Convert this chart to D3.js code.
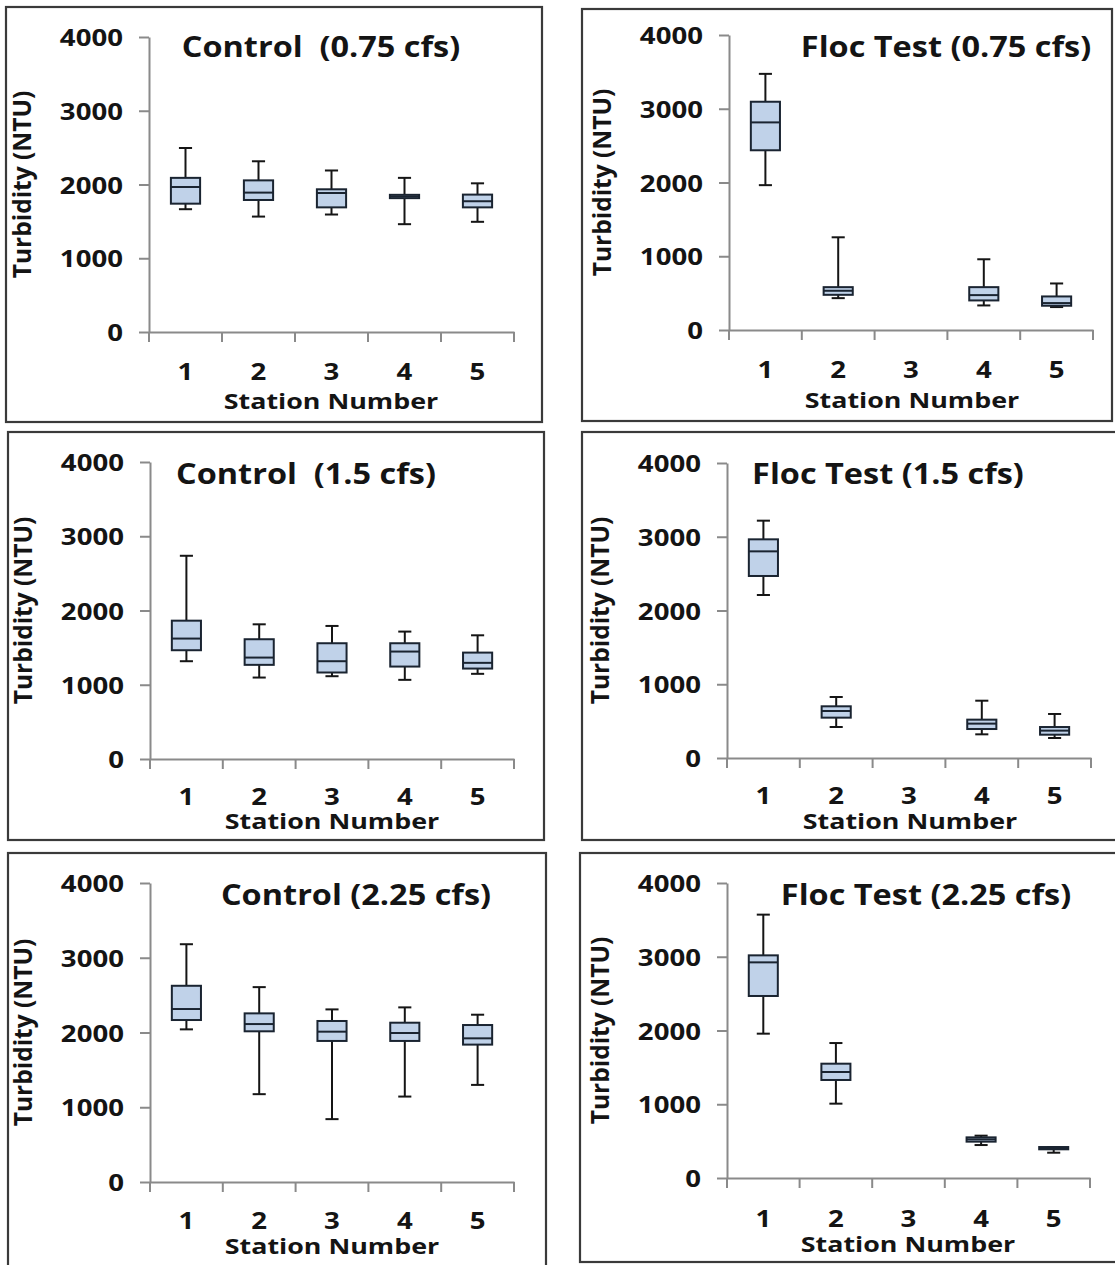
<!DOCTYPE html>
<html>
<head>
<meta charset="utf-8">
<script src="https://cdn.jsdelivr.net/npm/d3@7"></script>
<style>
  body { margin: 0; background: #fff; }
  svg { display: block; }
  text { font-family: "Open Sans", "DejaVu Sans", sans-serif; font-weight: 700; fill: #141414; }
</style>
</head>
<body>
<svg id="chart" width="1115" height="1265"></svg>
<script>
// Station categories and turbidity axis ticks
const stations = ["1", "2", "3", "4", "5"];
const yTickValues = [0, 1000, 2000, 3000, 4000];
const panelTitles = [
  "Control  (0.75 cfs)", "Floc Test (0.75 cfs)",
  "Control  (1.5 cfs)",  "Floc Test (1.5 cfs)",
  "Control (2.25 cfs)",  "Floc Test (2.25 cfs)"
];
const yAxisLabel = "Turbidity (NTU)";
const xAxisLabel = "Station Number";

// Box summaries per station: [lower whisker, Q1, median, Q3, upper whisker] in NTU
// (null = no measurements at that station)
const control075 = [[1665, 1740, 1966, 2090, 2495], [1565, 1790, 1890, 2056, 2315], [1593, 1690, 1885, 1935, 2190], [1462, 1815, 1838, 1860, 2090], [1494, 1690, 1773, 1863, 2016]];
const floc075    = [[1964, 2437, 2815, 3095, 3473], [432, 477, 532, 581, 1257], null, [333, 401, 473, 581, 959], [311, 329, 365, 455, 631]];
const control150 = [[1317, 1465, 1622, 1863, 2737], [1097, 1268, 1366, 1613, 1814], [1115, 1165, 1317, 1559, 1792], [1066, 1245, 1447, 1559, 1716], [1147, 1218, 1295, 1433, 1666]];
const floc150    = [[2210, 2468, 2802, 2965, 3218], [420, 547, 637, 701, 827], null, [321, 393, 466, 520, 777], [271, 316, 371, 420, 597]];
const control225 = [[2042, 2167, 2314, 2625, 3181], [1175, 2016, 2113, 2256, 2607], [841, 1887, 2011, 2154, 2309], [1143, 1887, 1993, 2131, 2336], [1299, 1838, 1922, 2100, 2238]];
const floc225    = [[1957, 2468, 2924, 3019, 3571], [1008, 1329, 1437, 1550, 1830], null, [447, 493, 524, 551, 574], [343, 389, 407, 420, 420]];

// Panel placement on the page (frame box and plot area)
const layout = [
  { data: control075, frame: [6, 7, 542, 422],       x0: 149, x1: 514,  yBase: 332,  yTop: 37,  titleX: 321, titleY: 57,  labelY: 380,  nameX: 331, nameY: 409 },
  { data: floc075,    frame: [582, 9, 1112, 421],    x0: 729, x1: 1093, yBase: 330,  yTop: 35,  titleX: 946, titleY: 57,  labelY: 378,  nameX: 912, nameY: 408 },
  { data: control150, frame: [8, 432, 544, 840],     x0: 150, x1: 514,  yBase: 759,  yTop: 462, titleX: 306, titleY: 484, labelY: 805,  nameX: 332, nameY: 829 },
  { data: floc150,    frame: [582, 432, 1118, 840],  x0: 727, x1: 1091, yBase: 758,  yTop: 463, titleX: 888, titleY: 484, labelY: 804,  nameX: 910, nameY: 829 },
  { data: control225, frame: [8, 853, 546, 1275],    x0: 150, x1: 514,  yBase: 1182, yTop: 883, titleX: 356, titleY: 905, labelY: 1229, nameX: 332, nameY: 1254 },
  { data: floc225,    frame: [580, 853, 1118, 1262], x0: 727, x1: 1090, yBase: 1178, yTop: 883, titleX: 926, titleY: 905, labelY: 1227, nameX: 908, nameY: 1252 }
];

const AXIS_GRAY = "#8a8a8a";
const BOX_FILL = "#c0d2e9";
const BOX_EDGE = "#1a2431";
const INK = "#151515";

const svg = d3.select("#chart");

// Horizontally widen a text element about its own anchor point
function widen(sel, sx) {
  sel.each(function () {
    const t = d3.select(this);
    const x = +t.attr("x") || 0, y = +t.attr("y") || 0;
    t.attr("transform", `translate(${x},${y}) scale(${sx},1) translate(${-x},${-y})`);
  });
}

layout.forEach((p, i) => {
  const g = svg.append("g");
  const [fx0, fy0, fx1, fy1] = p.frame;

  // outer frame
  g.append("rect")
    .attr("x", fx0).attr("y", fy0)
    .attr("width", fx1 - fx0).attr("height", fy1 - fy0)
    .attr("fill", "none").attr("stroke", "#3a3a3a").attr("stroke-width", 2.2);

  const x = d3.scaleBand().domain(stations).range([p.x0, p.x1]).padding(0);
  const y = d3.scaleLinear().domain([0, 4000]).range([p.yBase, p.yTop]);

  // y axis
  const yAxis = g.append("g")
    .attr("transform", `translate(${p.x0},0)`)
    .call(d3.axisLeft(y).tickValues(yTickValues).tickSize(10).tickSizeOuter(0).tickPadding(16).tickFormat(d3.format("d")));
  yAxis.select(".domain").attr("stroke", AXIS_GRAY).attr("stroke-width", 2);
  yAxis.selectAll(".tick line").attr("stroke", AXIS_GRAY).attr("stroke-width", 2);
  yAxis.selectAll(".tick text")
    .attr("fill", INK).style("font-size", "24px").attr("dy", "0.36em");
  widen(yAxis.selectAll(".tick text"), 1.15);

  // x axis: labels centred in each station band
  const xAxis = g.append("g")
    .attr("transform", `translate(0,${p.yBase})`)
    .call(d3.axisBottom(x).tickSize(0).tickSizeOuter(0).tickPadding(0));
  xAxis.select(".domain").attr("stroke", AXIS_GRAY).attr("stroke-width", 2);
  xAxis.selectAll(".tick text")
    .attr("fill", INK).style("font-size", "24px")
    .attr("dy", null).attr("y", p.labelY - p.yBase);
  widen(xAxis.selectAll(".tick text"), 1.15);

  // x axis: tick marks on the band boundaries
  const bounds = stations.map(s => x(s)).concat([x(stations[stations.length - 1]) + x.step()]);
  g.append("g").selectAll("line").data(bounds).join("line")
    .attr("x1", d => d).attr("x2", d => d)
    .attr("y1", p.yBase).attr("y2", p.yBase + 10)
    .attr("stroke", AXIS_GRAY).attr("stroke-width", 2);

  // box plots
  const bw = x.bandwidth() * 0.40;
  const cw = x.bandwidth() * 0.18;
  const boxes = g.append("g").selectAll("g")
    .data(p.data.map((d, k) => ({ s: stations[k], v: d })).filter(d => d.v))
    .join("g")
    .attr("transform", d => `translate(${x(d.s) + x.bandwidth() / 2},0)`);

  boxes.append("line")
    .attr("x1", 0).attr("x2", 0)
    .attr("y1", d => y(d.v[0])).attr("y2", d => y(d.v[4]))
    .attr("stroke", INK).attr("stroke-width", 2);
  boxes.append("line")
    .attr("x1", -cw / 2).attr("x2", cw / 2)
    .attr("y1", d => y(d.v[0])).attr("y2", d => y(d.v[0]))
    .attr("stroke", INK).attr("stroke-width", 2);
  boxes.append("line")
    .attr("x1", -cw / 2).attr("x2", cw / 2)
    .attr("y1", d => y(d.v[4])).attr("y2", d => y(d.v[4]))
    .attr("stroke", INK).attr("stroke-width", 2);
  boxes.append("rect")
    .attr("x", -bw / 2).attr("width", bw)
    .attr("y", d => y(d.v[3])).attr("height", d => y(d.v[1]) - y(d.v[3]))
    .attr("fill", BOX_FILL).attr("stroke", BOX_EDGE).attr("stroke-width", 2);
  boxes.append("line")
    .attr("x1", -bw / 2).attr("x2", bw / 2)
    .attr("y1", d => y(d.v[2])).attr("y2", d => y(d.v[2]))
    .attr("stroke", BOX_EDGE).attr("stroke-width", 2);

  // titles
  const title = g.append("text")
    .attr("x", p.titleX).attr("y", p.titleY)
    .attr("text-anchor", "middle").style("font-size", "29px")
    .style("white-space", "pre")
    .text(panelTitles[i]);
  widen(title, 1.12);

  const xName = g.append("text")
    .attr("x", p.nameX).attr("y", p.nameY)
    .attr("text-anchor", "middle").style("font-size", "22px")
    .text(xAxisLabel);
  widen(xName, 1.22);

  const cy = (p.yBase + p.yTop) / 2;
  const yName = p.x0 - 118;
  g.append("text")
    .attr("transform", `translate(${yName},${cy}) rotate(-90)`)
    .attr("text-anchor", "middle").style("font-size", "24.5px")
    .text(yAxisLabel);
});
</script>
</body>
</html>
